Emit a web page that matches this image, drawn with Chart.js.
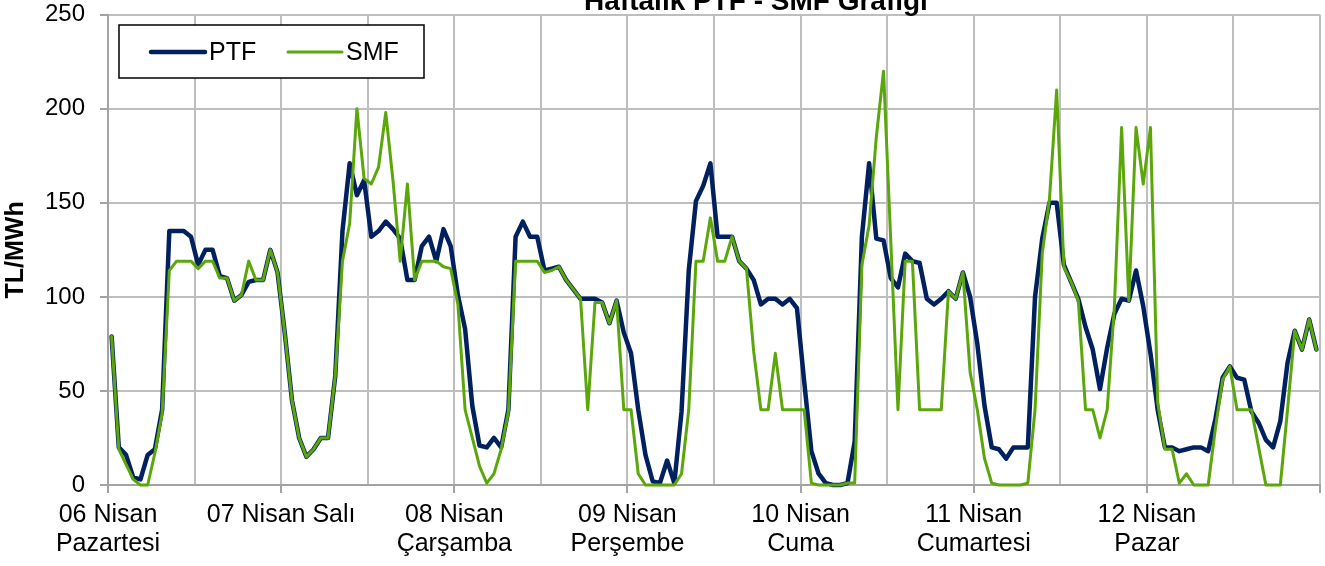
<!DOCTYPE html>
<html lang="tr">
<head>
<meta charset="utf-8">
<title>Haftalık PTF - SMF Grafiği</title>
<script src="https://cdn.jsdelivr.net/npm/chart.js@4.4.1/dist/chart.umd.min.js"></script>
<style>
    html, body { margin: 0; padding: 0; background: #fff; overflow: hidden; }
    #wrap { position: relative; width: 1325px; height: 566px; }
</style>
</head>
<body>
<div id="wrap"><canvas id="priceChart"></canvas></div>
<script>
// günler (x ekseni etiketleri)
const days = [
    ['06 Nisan', 'Pazartesi'],
    ['07 Nisan Salı'],
    ['08 Nisan', 'Çarşamba'],
    ['09 Nisan', 'Perşembe'],
    ['10 Nisan', 'Cuma'],
    ['11 Nisan', 'Cumartesi'],
    ['12 Nisan', 'Pazar']
];

// saatlik PTF (TL/MWh)
const ptf = [
    79, 20, 16, 4, 3, 16, 19, 40, 135, 135, 135, 132, 117, 125, 125, 111, 110, 98, 101, 108, 109, 109, 125, 113,
    81, 45, 25, 15, 19, 25, 25, 58, 135, 171, 154, 162, 132, 135, 140, 136, 131, 109, 109, 127, 132, 119, 136, 127,
    101, 83, 42, 21, 20, 25, 20, 40, 132, 140, 132, 132, 114, 115, 116, 109, 104, 99, 99, 99, 97, 86, 98, 81,
    70, 40, 16, 2, 1, 13, 1, 39, 114, 151, 159, 171, 132, 132, 132, 119, 115, 109, 96, 99, 99, 96, 99, 94,
    55, 18, 6, 1, 0, 0, 1, 23, 132, 171, 131, 130, 110, 105, 123, 119, 118, 99, 96, 99, 103, 99, 113, 100,
    75, 42, 20, 19, 14, 20, 20, 20, 100, 131, 150, 150, 117, 108, 99, 84, 72, 51, 73, 91, 99, 98, 114, 95,
    70, 40, 20, 20, 18, 19, 20, 20, 18, 35, 57, 63, 57, 56, 39, 33, 24, 20, 34, 65, 82, 72, 88, 72
];

// saatlik SMF (TL/MWh)
const smf = [
    79, 19, 11, 3, 0, 0, 17, 38, 114, 119, 119, 119, 115, 119, 119, 110, 110, 98, 101, 119, 109, 109, 125, 113,
    81, 45, 25, 15, 19, 25, 25, 58, 119, 139, 200, 163, 160, 169, 198, 162, 119, 160, 109, 119, 119, 119, 116, 115,
    96, 40, 25, 10, 1, 6, 19, 39, 119, 119, 119, 119, 113, 114, 116, 109, 104, 99, 40, 97, 97, 86, 98, 40,
    40, 6, 0, 0, 0, 0, 0, 6, 40, 119, 119, 142, 119, 119, 132, 119, 115, 71, 40, 40, 70, 40, 40, 40,
    40, 1, 0, 0, 0, 0, 1, 1, 117, 138, 185, 220, 130, 40, 119, 119, 40, 40, 40, 40, 103, 99, 113, 60,
    40, 14, 1, 0, 0, 0, 0, 1, 40, 123, 152, 210, 116, 108, 98, 40, 40, 25, 40, 95, 190, 98, 190, 160,
    190, 44, 19, 19, 1, 6, 0, 0, 0, 30, 56, 63, 40, 40, 40, 20, 0, 0, 0, 40, 82, 72, 88, 72
];

const yTicks = [0, 50, 100, 150, 200, 250];

const hourLabels = days.flatMap(d =>
    Array.from({ length: 24 }, (_, h) => d.join(' ') + ' ' + String(h).padStart(2, '0') + ':00'));

const FONT = "'Liberation Sans', Arial, Helvetica, sans-serif";
const GRID = '#bebebe';
const AXIS = '#a3a3a3';

Chart.defaults.font.family = FONT;
Chart.defaults.color = '#000';

// başlık ve lejant (grafik alanının içinde, çerçeveli)
const frame = {
    id: 'frame',
    afterDatasetsDraw(chart) {
        const ctx = chart.ctx;
        ctx.save();

        ctx.font = 'bold 28px ' + FONT;
        ctx.fillStyle = '#000';
        ctx.textAlign = 'center';
        ctx.textBaseline = 'alphabetic';
        ctx.fillText('Haftalık PTF - SMF Grafiği', 756, 10);

        ctx.fillStyle = '#fff';
        ctx.fillRect(119, 25, 305, 53);
        ctx.strokeStyle = '#000';
        ctx.lineWidth = 1.5;
        ctx.strokeRect(119, 25, 305, 53);

        ctx.lineCap = 'round';
        chart.data.datasets.forEach(ds => {
            const x = ds.legendX;
            ctx.strokeStyle = ds.borderColor;
            ctx.lineWidth = ds.borderWidth;
            ctx.beginPath();
            ctx.moveTo(x, 52);
            ctx.lineTo(x + 54, 52);
            ctx.stroke();
            ctx.font = '25px ' + FONT;
            ctx.fillStyle = '#000';
            ctx.textAlign = 'left';
            ctx.textBaseline = 'middle';
            ctx.fillText(ds.label, x + 58, 53);
        });
        ctx.restore();
    }
};

new Chart(document.getElementById('priceChart'), {
    type: 'line',
    data: {
        labels: hourLabels,
        datasets: [{
            label: 'PTF',
            data: ptf,
            borderColor: '#002060',
            borderWidth: 4.5,
            order: 2,
            legendX: 151
        }, {
            label: 'SMF',
            data: smf,
            borderColor: '#5ba70b',
            borderWidth: 3,
            order: 1,
            legendX: 288
        }]
    },
    options: {
        responsive: true,
        maintainAspectRatio: false,
        animation: false,
        layout: { padding: { top: 14.7, right: 5, left: 0, bottom: 0 } },
        elements: {
            point: { radius: 0, hoverRadius: 0 },
            line: { tension: 0, borderJoinStyle: 'round', borderCapStyle: 'round' }
        },
        datasets: { line: { clip: false } },
        plugins: {
            legend: { display: false },
            title: { display: false },
            tooltip: { enabled: false }
        },
        scales: {
            x: {
                offset: true,
                afterFit: s => { s.height = 81; s.paddingLeft = 0; s.paddingRight = 0; },
                grid: {
                    offset: true,
                    lineWidth: 2,
                    tickLength: 8,
                    color: c => (c.type !== 'tick' || c.index % 12 === 0) ? GRID : 'transparent',
                    tickColor: c => (c.type !== 'tick' || c.index % 24 === 0) ? AXIS : 'transparent'
                },
                border: { color: AXIS, width: 2 },
                ticks: {
                    autoSkip: false,
                    maxRotation: 0,
                    minRotation: 0,
                    padding: 7.5,
                    labelOffset: -3.6,
                    font: { size: 25, lineHeight: 1.16 },
                    callback: (v, i) => i % 24 === 0 ? days[i / 24] : ''
                }
            },
            y: {
                min: 0,
                max: 250,
                afterFit: s => { s.width = 108; s.paddingTop = 0; s.paddingBottom = 0; },
                afterBuildTicks: s => { s.ticks = yTicks.map(v => ({ value: v })); },
                grid: { color: GRID, lineWidth: 2, tickLength: 8, tickColor: AXIS },
                border: { color: AXIS, width: 2 },
                ticks: { padding: 15, font: { size: 24 } },
                title: {
                    display: true,
                    text: 'TL/MWh',
                    font: { size: 25, weight: 'bold' },
                    padding: { top: 1, bottom: 0 }
                }
            }
        }
    },
    plugins: [frame]
});
</script>
</body>
</html>
